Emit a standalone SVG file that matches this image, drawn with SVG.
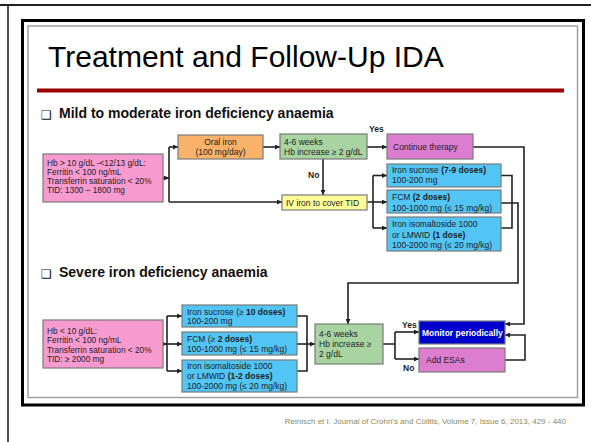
<svg xmlns="http://www.w3.org/2000/svg" width="591" height="442" viewBox="0 0 591 442">
<defs>
<marker id="ah" markerWidth="5" markerHeight="5" refX="5" refY="2.5" orient="auto" markerUnits="userSpaceOnUse">
<path d="M0,0 L5,2.5 L0,5 z" fill="#222"/>
</marker>
<style>
.t{font-family:"Liberation Sans",Arial,sans-serif;font-size:8.5px;fill:#1e1e1e}
.p{font-size:8.3px}
.b{font-weight:bold}
.h{font-family:"Liberation Sans",Arial,sans-serif;font-size:14px;font-weight:bold;fill:#111}
.cb{font-family:"DejaVu Sans",sans-serif;font-size:12px;fill:#111}
.box{stroke:#7a7a7a;stroke-width:1.2}
.pink{fill:#f79ad0}
.orange{fill:#f9b26a}
.green{fill:#a8d4a2}
.mag{fill:#dc7dd0}
.yel{fill:#ffff99}
.blue{fill:#52c5f5}
.dblue{fill:#0000cc}
.c{fill:none;stroke:#222;stroke-width:1.6}
.a{marker-end:url(#ah)}
</style>
</defs>
<rect width="591" height="442" fill="#fff"/>
<!-- frame -->
<line x1="0" y1="5" x2="591" y2="5" stroke="#222" stroke-width="2"/>
<line x1="8" y1="4" x2="8" y2="442" stroke="#222" stroke-width="1.6"/>
<rect x="22.5" y="20.5" width="561" height="384.5" fill="none" stroke="#000" stroke-width="3"/>
<rect x="28" y="26" width="549.5" height="371.5" fill="none" stroke="#a0a0a0" stroke-width="1.5"/>
<text x="48" y="67" font-family="'Liberation Sans',Arial,sans-serif" font-size="30" fill="#000">Treatment and Follow-Up IDA</text>
<rect x="37" y="88.5" width="527" height="4" fill="#9c0000"/>
<text x="566" y="424" text-anchor="end" font-family="'Liberation Sans',Arial,sans-serif" font-size="8" fill="#8a8a60">Reinisch et I. Journal of Crohn's and Colitis, Volume 7, Issue 6, 2013, 429 - 440</text>

<!-- headings -->
<text x="41" y="118.5" class="cb">❑</text>
<text x="59" y="118" class="h">Mild to moderate iron deficiency anaemia</text>
<text x="41" y="277.5" class="cb">❑</text>
<text x="59" y="277" class="h">Severe iron deficiency anaemia</text>

<!-- connectors -->
<g id="connectors">
<path class="c a" d="M163,178 H169"/>
<path class="c" d="M169,147 V202"/>
<path class="c a" d="M169,147 H178"/>
<path class="c a" d="M169,202 H282"/>
<path class="c a" d="M263,147 H280"/>
<path class="c a" d="M367,147 H387"/>
<path class="c a" d="M323,159 V195"/>
<path class="c" d="M367,202 H373 M373,175.5 V228"/>
<path class="c a" d="M373,175.5 H387"/>
<path class="c a" d="M373,202 H387"/>
<path class="c a" d="M373,228 H387"/>
<path class="c" d="M501,175.5 H512 V228 H501"/>
<path class="c a" d="M501,203 H518 V283 H348 V324"/>
<path class="c a" d="M473,147 H524 V324 H505"/>
<path class="c a" d="M163,344 H167"/>
<path class="c" d="M167,316 V371"/>
<path class="c a" d="M167,316 H182"/>
<path class="c a" d="M167,344 H182"/>
<path class="c a" d="M167,371 H182"/>
<path class="c" d="M297,316 H307 V371 H297"/>
<path class="c a" d="M297,344 H315"/>
<path class="c" d="M383,344 H395 M395,332 V359"/>
<path class="c a" d="M395,332 H419"/>
<path class="c a" d="M395,359 H419"/>
<path class="c a" d="M505,360 H525 V335 H505"/>
</g>
<text x="369" y="132" class="t b">Yes</text>
<text x="308" y="178" class="t b">No</text>
<text x="402" y="328" class="t b">Yes</text>
<text x="403" y="371" class="t b">No</text>

<!-- nodes -->
<g id="mild-criteria">
<rect x="43" y="154" width="120" height="48" class="box pink"/>
<text class="t p"><tspan x="47" y="165.5">Hb &gt; 10 g/dL -&lt;12/13 g/dL:</tspan><tspan x="47" y="174.5">Ferritin &lt; 100 ng/mL</tspan><tspan x="47" y="183.5">Transferrin saturation &lt; 20%</tspan><tspan x="47" y="192.5">TID: 1300 – 1800 mg</tspan></text>
</g>
<g id="oral-iron">
<rect x="178" y="135" width="85" height="24" class="box orange"/>
<text class="t" text-anchor="middle"><tspan x="220.5" y="145">Oral iron</tspan><tspan x="220.5" y="154.5">(100 mg/day)</tspan></text>
</g>
<g id="check1">
<rect x="280" y="134" width="87" height="25" class="box green"/>
<text class="t"><tspan x="284" y="144.5">4-6 weeks</tspan><tspan x="284" y="154.5">Hb increase ≥  2 g/dL</tspan></text>
</g>
<g id="continue">
<rect x="387" y="134" width="86" height="25" class="box mag"/>
<text x="393" y="149.5" class="t">Continue therapy</text>
</g>
<g id="iv-iron">
<rect x="282" y="195" width="85" height="15" class="box yel"/>
<text x="286" y="205.5" class="t">IV iron to cover TID</text>
</g>
<g id="m-sucrose">
<rect x="387" y="164" width="114" height="23" class="box blue"/>
<text class="t"><tspan x="392" y="173">Iron sucrose <tspan class="b">(7-9 doses)</tspan></tspan><tspan x="392" y="183">100-200 mg</tspan></text>
</g>
<g id="m-fcm">
<rect x="387" y="190" width="114" height="23" class="box blue"/>
<text class="t"><tspan x="392" y="200">FCM <tspan class="b">(2 doses)</tspan></tspan><tspan x="392" y="210.5">100-1000 mg (≤ 15 mg/kg)</tspan></text>
</g>
<g id="m-iso">
<rect x="387" y="217" width="114" height="34" class="box blue"/>
<text class="t"><tspan x="392" y="227">Iron isomaltoside 1000</tspan><tspan x="392" y="237.5">or LMWID <tspan class="b">(1 dose)</tspan></tspan><tspan x="392" y="248">100-2000 mg (≤ 20 mg/kg)</tspan></text>
</g>
<g id="severe-criteria">
<rect x="43" y="320" width="120" height="48" class="box pink"/>
<text class="t p"><tspan x="47" y="333.5">Hb &lt; 10 g/dL:</tspan><tspan x="47" y="343">Ferritin &lt; 100 ng/mL</tspan><tspan x="47" y="352.5">Transferrin saturation &lt; 20%</tspan><tspan x="47" y="362">TID: ≥ 2000 mg</tspan></text>
</g>
<g id="s-sucrose">
<rect x="182" y="305" width="115" height="22" class="box blue"/>
<text class="t"><tspan x="187" y="314.5">Iron sucrose (≥ <tspan class="b">10 doses)</tspan></tspan><tspan x="187" y="324">100-200 mg</tspan></text>
</g>
<g id="s-fcm">
<rect x="182" y="332" width="115" height="23" class="box blue"/>
<text class="t"><tspan x="187" y="341.5">FCM (≥ <tspan class="b">2 doses)</tspan></tspan><tspan x="187" y="352">100-1000 mg (≤ 15 mg/kg)</tspan></text>
</g>
<g id="s-iso">
<rect x="182" y="360" width="115" height="32" class="box blue"/>
<text class="t"><tspan x="187" y="369">Iron isomaltoside 1000</tspan><tspan x="187" y="379">or LMWID <tspan class="b">(1-2 doses)</tspan></tspan><tspan x="187" y="389">100-2000 mg (≤ 20 mg/kg)</tspan></text>
</g>
<g id="check2">
<rect x="315" y="324" width="68" height="40" class="box green"/>
<text class="t"><tspan x="319" y="337">4-6 weeks</tspan><tspan x="319" y="347">Hb increase ≥</tspan><tspan x="319" y="356.5">2 g/dL</tspan></text>
</g>
<g id="monitor">
<rect x="419" y="321" width="86" height="23" class="box dblue"/>
<text x="422" y="335.5" class="t b" style="fill:#fff">Monitor periodically</text>
</g>
<g id="esa">
<rect x="419" y="348" width="86" height="24" class="box mag"/>
<text x="426" y="363" class="t">Add ESAs</text>
</g>
</svg>
